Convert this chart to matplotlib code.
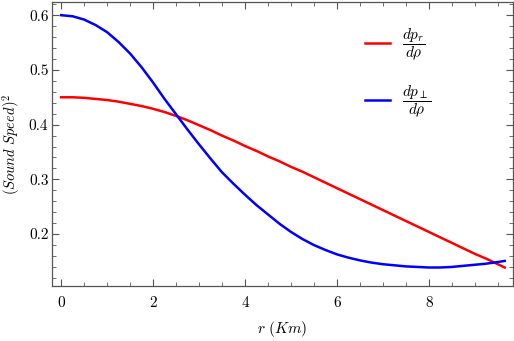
import numpy as np
import matplotlib
matplotlib.use("Agg")
import matplotlib.pyplot as plt
from matplotlib.ticker import MultipleLocator

plt.rcParams['font.family'] = 'serif'
plt.rcParams['font.serif'] = ['cmr10']
plt.rcParams['mathtext.fontset'] = 'cm'
plt.rcParams['axes.formatter.use_mathtext'] = True

# values (r in Km)
r = [0.0, 0.25, 0.5, 0.75, 1.0, 1.25, 1.5, 1.75, 2.0, 2.25, 2.5, 2.75,
     3.0, 3.25, 3.5, 3.75, 4.0, 4.25, 4.5, 4.75, 5.0, 5.25, 5.5, 5.75,
     6.0, 6.25, 6.5, 6.75, 7.0, 7.25, 7.5, 7.75, 8.0, 8.25, 8.5, 8.75,
     9.0, 9.25, 9.5, 9.65]
cs_radial = [0.450, 0.450, 0.449, 0.447, 0.445, 0.442, 0.438, 0.434, 0.429,
             0.423, 0.416, 0.408, 0.399, 0.390, 0.380, 0.371, 0.361, 0.352,
             0.342, 0.333, 0.323, 0.314, 0.304, 0.294, 0.284, 0.274, 0.264,
             0.254, 0.244, 0.234, 0.224, 0.214, 0.204, 0.194, 0.184, 0.174,
             0.164, 0.155, 0.145, 0.139]
cs_tangential = [0.600, 0.598, 0.592, 0.582, 0.569, 0.551, 0.530, 0.505,
                 0.477, 0.447, 0.419, 0.391, 0.364, 0.338, 0.313, 0.292,
                 0.272, 0.253, 0.236, 0.219, 0.204, 0.191, 0.180, 0.171,
                 0.163, 0.157, 0.152, 0.148, 0.145, 0.143, 0.141, 0.140,
                 0.139, 0.139, 0.140, 0.142, 0.144, 0.146, 0.149, 0.151]

fig = plt.figure(figsize=(5.14, 3.41), dpi=100)
ax = fig.add_axes([0.101, 0.161, 0.897, 0.833])

ax.plot(r, cs_radial, color='#ff0000', lw=1.8, label=r'$\dfrac{dp_r}{d\rho}$')
ax.plot(r, cs_tangential, color='#0000ff', lw=1.8, label=r'$\dfrac{dp_\perp}{d\rho}$')

ax.set_xlim(-0.2, 9.83)
ax.set_ylim(0.105, 0.624)
ax.xaxis.set_minor_locator(MultipleLocator(0.5))
ax.yaxis.set_minor_locator(MultipleLocator(0.02))
ax.set_xticks([0, 2, 4, 6, 8])
ax.set_xticklabels(['0', '2', '4', '6', '8'])
ax.set_yticks([0.2, 0.3, 0.4, 0.5, 0.6])
ax.set_yticklabels(['0.2', '0.3', '0.4', '0.5', '0.6'])

for s in ax.spines.values():
    s.set_color('#555555')
    s.set_linewidth(0.9)
ax.tick_params(which='both', direction='in', top=True, right=True,
               color='#555555', labelsize=11)
ax.tick_params(which='major', length=5, width=0.8)
ax.tick_params(which='minor', length=2.8, width=0.6)
ax.tick_params(axis='x', which='major', pad=7)
ax.tick_params(axis='y', which='major', pad=2.5)

ax.set_xlabel(r'$r\ (Km)$', fontsize=11, labelpad=7)
ax.set_ylabel(r'$(Sound\ Speed)^2$', fontsize=10.5, labelpad=5)

ax.legend(loc='upper left', bbox_to_anchor=(0.65, 0.962), frameon=False,
          fontsize=11, handlelength=1.6, labelspacing=1.35, handletextpad=0.8)

fig.savefig('out.png', dpi=100)
